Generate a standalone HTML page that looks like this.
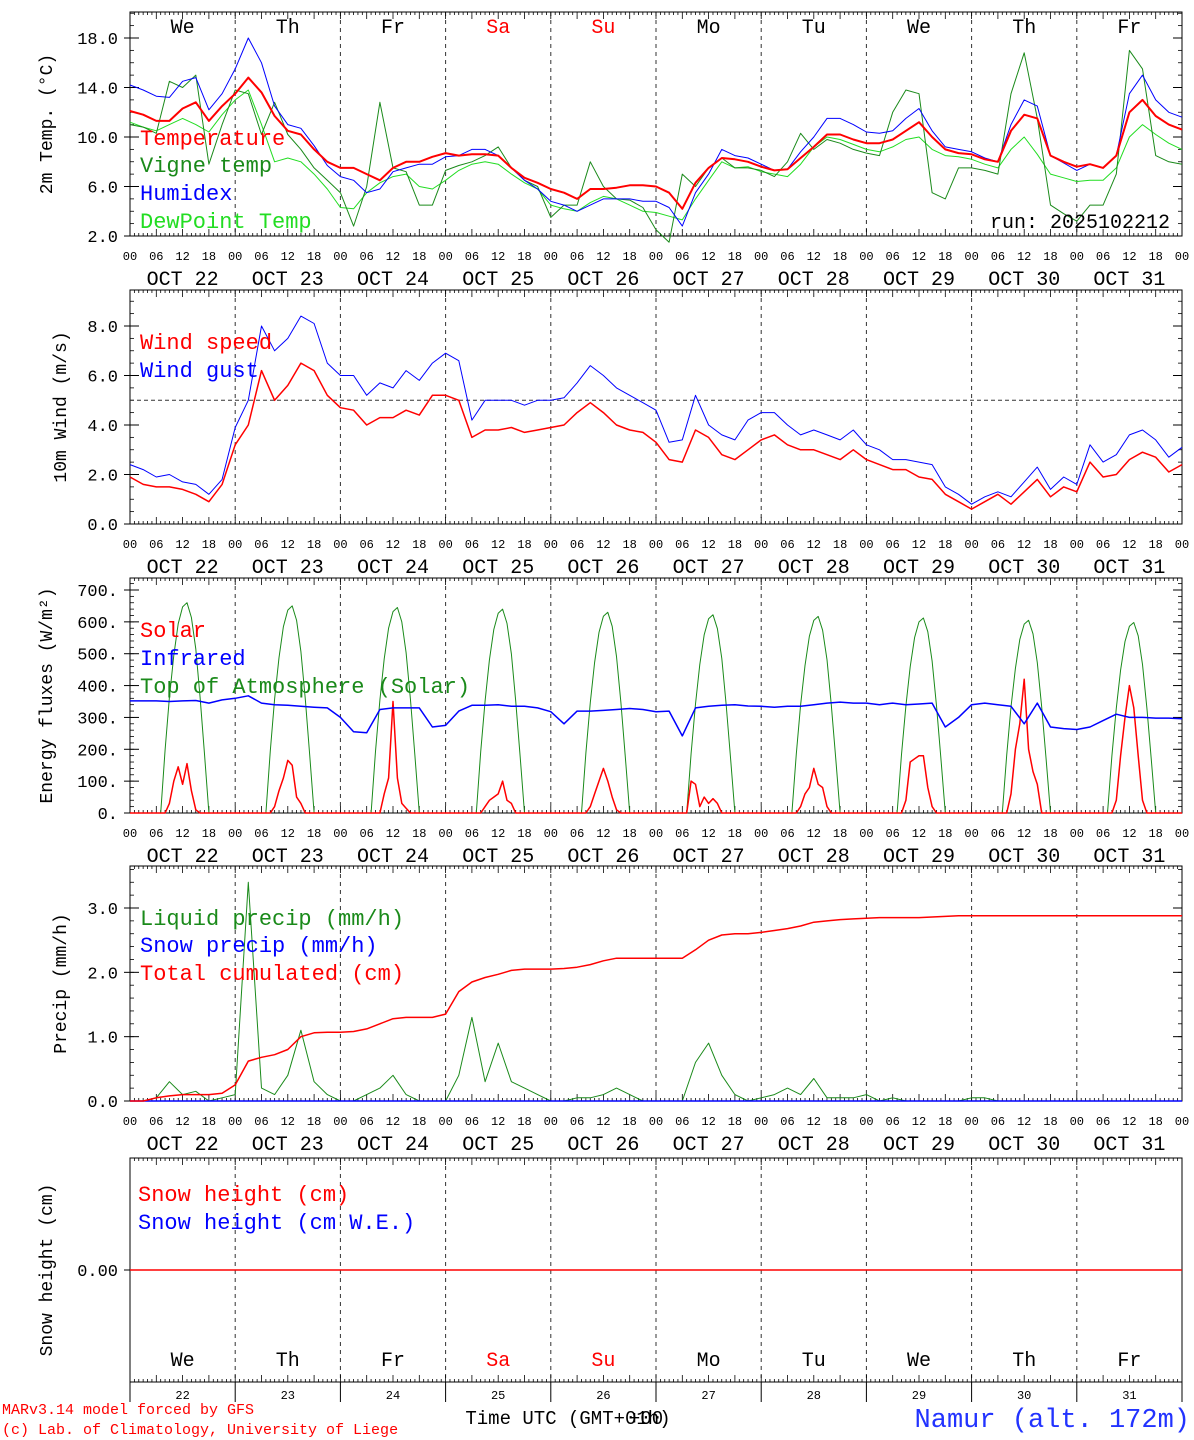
<!DOCTYPE html>
<html><head><meta charset="utf-8">
<style>
html,body{margin:0;padding:0;background:#fff;}
svg{display:block;font-family:"Liberation Mono",monospace;}
</style></head>
<body>
<svg id="chart" width="1194" height="1440" viewBox="0 0 1194 1440" xmlns="http://www.w3.org/2000/svg"></svg>
<script>
// ---- data (3-hourly, hour 0..240 starting Oct 22 00 UTC) ----
const dayNames=["We","Th","Fr","Sa","Su","Mo","Tu","We","Th","Fr"];
const dateLabels=["OCT 22","OCT 23","OCT 24","OCT 25","OCT 26","OCT 27","OCT 28","OCT 29","OCT 30","OCT 31"];
const dayNums=["22","23","24","25","26","27","28","29","30","31"];
const tempVals=[12.1,11.8,11.3,11.3,12.3,12.8,11.3,12.5, 13.5,14.8,13.6,11.7,10.5,10.2,9.0,8.0, 7.5,7.5,7.0,6.5,7.5,8.0,8.0,8.4, 8.7,8.5,8.6,8.6,8.5,7.5,6.7,6.3, 5.8,5.5,5.0,5.8,5.8,5.9,6.1,6.1, 6.0,5.5,4.2,6.3,7.5,8.3,8.2,8.0, 7.6,7.3,7.4,8.3,9.2,10.2,10.2,9.8, 9.5,9.5,9.8,10.5,11.2,10.0,9.0,8.7, 8.6,8.2,8.0,10.5,11.8,11.5,8.5,8.0, 7.6,7.8,7.5,8.5,12.0,13.0,11.7,11.0, 10.6];
const humidexVals=[14.2,13.8,13.3,13.2,14.5,14.8,12.2,13.5, 15.5,18.0,16.0,12.5,11.0,10.7,9.3,7.7, 6.8,6.5,5.5,5.8,7.2,7.5,7.8,7.8, 8.4,8.5,9.0,9.0,8.5,7.5,6.5,5.8, 4.8,4.5,4.0,4.5,5.0,5.0,5.0,4.8, 4.8,4.3,2.8,5.5,7.0,9.0,8.5,8.3, 7.8,7.3,7.4,8.8,10.0,11.5,11.5,11.0, 10.4,10.3,10.5,11.5,12.3,10.5,9.2,9.0, 8.8,8.3,8.0,11.0,13.0,12.5,8.5,7.9, 7.3,7.8,7.5,8.5,13.5,15.0,13.0,12.0, 11.6];
const dewVals=[11.2,10.8,10.5,11.0,11.5,11.0,10.4,11.8, 13.0,13.8,11.0,8.0,8.3,8.0,7.0,5.8, 4.3,4.2,5.5,6.3,6.8,7.0,6.0,5.8, 6.5,7.3,7.8,8.0,7.8,7.0,6.3,5.8, 4.5,4.2,4.0,4.7,5.2,5.0,4.5,4.0, 3.9,3.6,3.3,5.0,6.5,8.0,7.5,7.6, 7.2,7.0,6.8,7.8,9.2,10.0,9.8,9.4, 9.0,8.8,9.2,9.8,10.0,9.0,8.5,8.4, 8.2,7.8,7.5,9.0,10.0,8.6,7.0,6.7, 6.4,6.5,6.5,7.5,10.0,11.0,10.2,9.5, 9.0];
const vigneVals=[11.0,10.8,10.3,14.5,14.0,15.0,7.8,11.0, 13.8,13.5,10.2,12.8,10.2,9.0,7.5,6.5, 5.5,2.8,6.0,12.8,7.5,7.2,4.5,4.5, 7.3,7.7,8.0,8.5,9.2,7.5,6.5,6.0, 3.5,4.5,4.5,8.0,6.0,5.0,4.9,4.3, 2.5,1.5,7.0,6.0,7.5,8.3,7.5,7.5, 7.3,6.8,8.0,10.3,9.0,9.8,9.5,9.0, 8.7,8.5,12.0,13.8,13.5,5.5,5.0,7.5, 7.5,7.3,7.0,13.5,16.8,11.5,4.5,3.8, 3.2,4.5,4.5,7.0,17.0,15.5,8.5,8.0, 7.8];
const windVals=[1.9,1.6,1.5,1.5,1.4,1.2,0.9,1.6, 3.2,4.0,6.2,5.0,5.6,6.5,6.2,5.2, 4.7,4.6,4.0,4.3,4.3,4.6,4.4,5.2, 5.2,5.0,3.5,3.8,3.8,3.9,3.7,3.8, 3.9,4.0,4.5,4.9,4.5,4.0,3.8,3.7, 3.3,2.6,2.5,3.8,3.5,2.8,2.6,3.0, 3.4,3.6,3.2,3.0,3.0,2.8,2.6,3.0, 2.6,2.4,2.2,2.2,1.9,1.8,1.2,0.9, 0.6,0.9,1.2,0.8,1.3,1.8,1.1,1.5, 1.3,2.5,1.9,2.0,2.6,2.9,2.7,2.1, 2.4];
const gustVals=[2.4,2.2,1.9,2.0,1.7,1.6,1.2,1.8, 3.9,5.0,8.0,7.0,7.5,8.4,8.1,6.5, 6.0,6.0,5.2,5.7,5.5,6.2,5.8,6.5, 6.9,6.6,4.2,5.0,5.0,5.0,4.8,5.0, 5.0,5.1,5.7,6.4,6.0,5.5,5.2,4.9, 4.6,3.3,3.4,5.2,4.0,3.6,3.4,4.2, 4.5,4.5,4.0,3.6,3.8,3.6,3.4,3.8, 3.2,3.0,2.6,2.6,2.5,2.4,1.5,1.2, 0.8,1.1,1.3,1.1,1.7,2.3,1.4,1.9, 1.6,3.2,2.5,2.8,3.6,3.8,3.4,2.7, 3.1];
const irVals=[352,352,352,350,352,353,345,355, 360,368,345,340,338,335,332,330, 300,255,252,325,330,330,330,270, 275,320,338,338,340,335,335,330, 318,280,320,320,322,325,328,325, 318,320,242,330,335,338,340,336, 335,332,335,335,340,345,348,345, 345,340,345,340,342,345,270,300, 340,345,340,335,280,345,270,265, 262,270,290,310,300,300,298,298, 296];
// TOA: daily peak and hourly profile fraction (hour 0..23)
const toaPeak=[660,650,645,640,630,622,617,612,605,598];
const toaProfile=[0,0,0,0,0,0,0,0,0.3,0.55,0.75,0.9,0.98,1,0.93,0.78,0.55,0.28,0,0,0,0,0,0];
// Solar hourly values for hours 8..17 each day
const solarDays=[[0,30,100,145,90,155,70,10,0,0],[0,20,70,110,165,150,50,30,0,0],[0,0,60,110,350,110,30,15,0,0],[0,20,40,50,60,100,40,30,0,0],[0,20,60,100,140,100,50,10,0,0],[100,90,20,50,30,45,30,0,0,0],[0,20,60,80,140,90,80,20,0,0],[0,40,160,170,180,180,80,20,0,0],[0,60,200,280,420,200,130,90,0,0],[0,40,180,300,400,330,180,40,0,0]];
const liquidVals=[0,0,0.05,0.3,0.1,0.15,0,0.05, 0.1,3.4,0.2,0.1,0.4,1.1,0.3,0.1, 0,0,0.1,0.2,0.4,0.1,0,0, 0,0.4,1.3,0.3,0.9,0.3,0.2,0.1, 0,0,0.05,0.05,0.1,0.2,0.1,0, 0,0,0,0.6,0.9,0.4,0.1,0, 0.05,0.1,0.2,0.1,0.35,0.05,0.05,0.05, 0.1,0,0.05,0,0,0,0,0, 0.05,0.05,0,0,0,0,0,0, 0,0,0,0,0,0,0,0, 0];
const cumVals=[0,0,0.05,0.08,0.1,0.1,0.1,0.12, 0.25,0.62,0.68,0.72,0.8,1.0,1.06,1.07, 1.07,1.08,1.12,1.2,1.28,1.3,1.3,1.3, 1.35,1.7,1.85,1.92,1.97,2.03,2.05,2.05, 2.05,2.06,2.08,2.12,2.18,2.22,2.22,2.22, 2.22,2.22,2.22,2.35,2.5,2.58,2.6,2.6, 2.62,2.65,2.68,2.72,2.78,2.8,2.82,2.83, 2.84,2.85,2.85,2.85,2.85,2.86,2.87,2.88, 2.88,2.88,2.88,2.88,2.88,2.88,2.88,2.88, 2.88,2.88,2.88,2.88,2.88,2.88,2.88,2.88, 2.88];
const snowVals=new Array(81).fill(0);
const t1Ticks=["2.0","6.0","10.0","14.0","18.0"];
const t2Ticks=["0.0","2.0","4.0","6.0","8.0"];
const t3Ticks=["0.","100.","200.","300.","400.","500.","600.","700."];
const t4Ticks=["0.0","1.0","2.0","3.0"];

// ---- drawing ----
const svg=document.getElementById('chart');
const NS="http://www.w3.org/2000/svg";
const X0=130,X1=1182;
function X(h){return X0+h*(X1-X0)/240;}
function mk(tag,attrs,parent){const e=document.createElementNS(NS,tag);for(const k in attrs)e.setAttribute(k,attrs[k]);(parent||svg).appendChild(e);return e;}
function txt(s,x,y,size,fill,anchor,parent){const t=mk('text',{x:x,y:y,'font-size':size,fill:fill||'#000','text-anchor':anchor||'start'},parent);t.textContent=s;return t;}
function scaleY(p){return v=>p.bottom-(v-p.min)*(p.bottom-p.top)/(p.max-p.min);}

const panels=[
 {name:'temp-panel',top:12,bottom:236,min:2-(0/12.375),max:2+224/12.375,title:'2m Temp. (\u00B0C)',ticks:t1Ticks,tickStart:2,tickStep:4,minor:1},
 {name:'wind-panel',top:290,bottom:524,min:0,max:234/24.75,title:'10m Wind (m/s)',ticks:t2Ticks,tickStart:0,tickStep:2,minor:0.5},
 {name:'energy-panel',top:578,bottom:813,min:0,max:235/(223/700),title:'Energy fluxes (W/m\u00B2)',ticks:t3Ticks,tickStart:0,tickStep:100,minor:20},
 {name:'precip-panel',top:866,bottom:1101,min:0,max:235/(193/3),title:'Precip (mm/h)',ticks:t4Ticks,tickStart:0,tickStep:1,minor:0.2},
 {name:'snow-panel',top:1158,bottom:1382,min:-1,max:1,title:'Snow height (cm)',ticks:["0.00"],tickStart:0,tickStep:1,minor:0}
];

panels.forEach((p,pi)=>{
  const g=mk('g',{});
  
  
  const Y=scaleY(p);
  // day dashed lines
  for(let d=1;d<10;d++){const l=mk('line',{x1:X(d*24),x2:X(d*24),y1:p.top,y2:p.bottom,stroke:'#333','stroke-width':1,'stroke-dasharray':'4,4'},g);
    }
  // frame
  const fr=mk('rect',{x:X0,y:p.top,width:X1-X0,height:p.bottom-p.top,fill:'none',stroke:'#000','stroke-width':1},g);
  
  // hour ticks top/bottom
  for(let h=0;h<=240;h++){
    const len=(h%6===0)?7:3;
    mk('line',{x1:X(h),x2:X(h),y1:p.bottom,y2:p.bottom-len,stroke:'#000','stroke-width':0.8},g);
    mk('line',{x1:X(h),x2:X(h),y1:p.top,y2:p.top+len,stroke:'#000','stroke-width':0.8},g);
  }
  // y ticks
  if(p.minor>0){
    for(let v=Math.ceil(p.min/p.minor)*p.minor;v<=p.max+1e-9;v+=p.minor){
      const y=Y(v);mk('line',{x1:X0,x2:X0+4,y1:y,y2:y,stroke:'#000','stroke-width':0.8},g);mk('line',{x1:X1,x2:X1-4,y1:y,y2:y,stroke:'#000','stroke-width':0.8},g);
    }
  }
  p.ticks.forEach((s,i)=>{
    const v=p.tickStart+i*p.tickStep;const y=Y(v);
    mk('line',{x1:X0-6,x2:X0+9,y1:y,y2:y,stroke:'#000','stroke-width':1},g);
    mk('line',{x1:X1,x2:X1-9,y1:y,y2:y,stroke:'#000','stroke-width':1},g);
    const t=txt(s,X0-12,y+6,17,'#000','end',g);
    
  });
  // y title
  const cy=(p.top+p.bottom)/2;
  const tt=mk('text',{x:0,y:0,'font-size':18,fill:'#000','text-anchor':'middle',transform:`translate(${pi==0||pi==2?52:pi==4?52:66},${cy}) rotate(-90)`},g);
  tt.textContent=p.title;
  
  // x labels
  if(pi<4){
    for(let d=0;d<10;d++){
      [0,6,12,18].forEach(h=>{const t=txt((h<10?'0':'')+h,X(d*24+h),p.bottom+24,12,'#000','middle',g);
        });
      const t=txt(dateLabels[d],X(d*24+12),p.bottom+49,20,'#000','middle',g);
      
    }
    const t=txt('00',X(240),p.bottom+24,12,'#000','middle',g);
    
  }
  p.Y=Y;p.g=g;
});

function line(arr,p,color,width,name,step){
  step=step||3;
  const pts=arr.map((v,i)=>X(i*step).toFixed(1)+','+p.Y(v).toFixed(1)).join(' ');
  const pl=mk('polyline',{points:pts,fill:'none',stroke:color,'stroke-width':width,'stroke-linejoin':'round'},p.g);
  
  
  return pl;
}
function legend(s,x,y,color,p,name){const t=txt(s,x,y,22,color,'start',p.g);}

// Panel 1
const P1=panels[0];
for(let d=0;d<10;d++){const t=txt(dayNames[d],X(d*24+12),33,20,(d==3||d==4)?'#f00':'#000','middle',P1.g);
  }
line(dewVals,P1,'#22dd22',1,'dewpoint-line');
line(vigneVals,P1,'#1a8a1a',1,'vigne-temp-line');
line(humidexVals,P1,'#0000ff',1,'humidex-line');
line(tempVals,P1,'#ff0000',2,'temperature-line');
legend('Temperature',140,145,'#f00',P1,'legend-temperature');
legend('Vigne temp',140,172,'#1a8a1a',P1,'legend-vigne-temp');
legend('Humidex',140,200,'#00f',P1,'legend-humidex');
legend('DewPoint Temp',140,228,'#22dd22',P1,'legend-dewpoint');
{const t=txt('run: 2025102212',1170,228,20,'#000','end',P1.g);}

// Panel 2
const P2=panels[1];
{const l=mk('line',{x1:X0,x2:X1,y1:P2.Y(5),y2:P2.Y(5),stroke:'#333','stroke-width':1,'stroke-dasharray':'4,3'},P2.g);}
line(gustVals,P2,'#0000ff',1,'wind-gust-line');
line(windVals,P2,'#ff0000',1.5,'wind-speed-line');
legend('Wind speed',140,349,'#f00',P2,'legend-wind-speed');
legend('Wind gust',140,377,'#00f',P2,'legend-wind-gust');

// Panel 3
const P3=panels[2];
const toaHourly=[];for(let d=0;d<10;d++)for(let h=0;h<24;h++)toaHourly.push(toaPeak[d]*toaProfile[h]);toaHourly.push(0);
line(toaHourly,P3,'#1a8a1a',1,'toa-solar-line',1);
const solarHourly=[];for(let d=0;d<10;d++)for(let h=0;h<24;h++)solarHourly.push((h>=8&&h<=17)?solarDays[d][h-8]:0);solarHourly.push(0);
line(solarHourly,P3,'#ff0000',1.5,'solar-line',1);
line(irVals,P3,'#0000ff',1.5,'infrared-line');
legend('Solar',140,637,'#f00',P3,'legend-solar');
legend('Infrared',140,665,'#00f',P3,'legend-infrared');
legend('Top of Atmosphere (Solar)',140,693,'#1a8a1a',P3,'legend-toa');

// Panel 4
const P4=panels[3];
line(liquidVals,P4,'#1a8a1a',1,'liquid-precip-line');
line(snowVals,P4,'#0000ff',1.5,'snow-precip-line');
line(cumVals,P4,'#ff0000',1.5,'cumulated-precip-line');
legend('Liquid precip (mm/h)',140,925,'#1a8a1a',P4,'legend-liquid');
legend('Snow precip (mm/h)',140,952,'#00f',P4,'legend-snow-precip');
legend('Total cumulated (cm)',140,980,'#f00',P4,'legend-total-cumulated');

// Panel 5
const P5=panels[4];
line(snowVals,P5,'#ff0000',1.5,'snow-height-line');
legend('Snow height (cm)',138,1201,'#f00',P5,'legend-snow-height');
legend('Snow height (cm W.E.)',138,1229,'#00f',P5,'legend-snow-we');
for(let d=0;d<10;d++){
  const t=txt(dayNames[d],X(d*24+12),1366,20,(d==3||d==4)?'#f00':'#000','middle',P5.g);
  
  const n=txt(dayNums[d],X(d*24+12),1399,12,'#000','middle',P5.g);
  
}
for(let d=0;d<=10;d++){mk('line',{x1:X(d*24),x2:X(d*24),y1:1382,y2:1402,stroke:'#000','stroke-width':1},P5.g);}

// footer
{let t=txt('MARv3.14 model forced by GFS',2,1414,15,'#f00','start');
 t=txt('(c) Lab. of Climatology, University of Liege',2,1434,15,'#f00','start');
 t=txt('Time UTC (GMT+01h)',568,1424,19,'#000','middle');
 t=txt('+00',646,1424,19,'#000','middle');
 t=txt('Namur (alt. 172m)',1190,1427,27,'#2233ff','end');}
</script>
</body></html>
